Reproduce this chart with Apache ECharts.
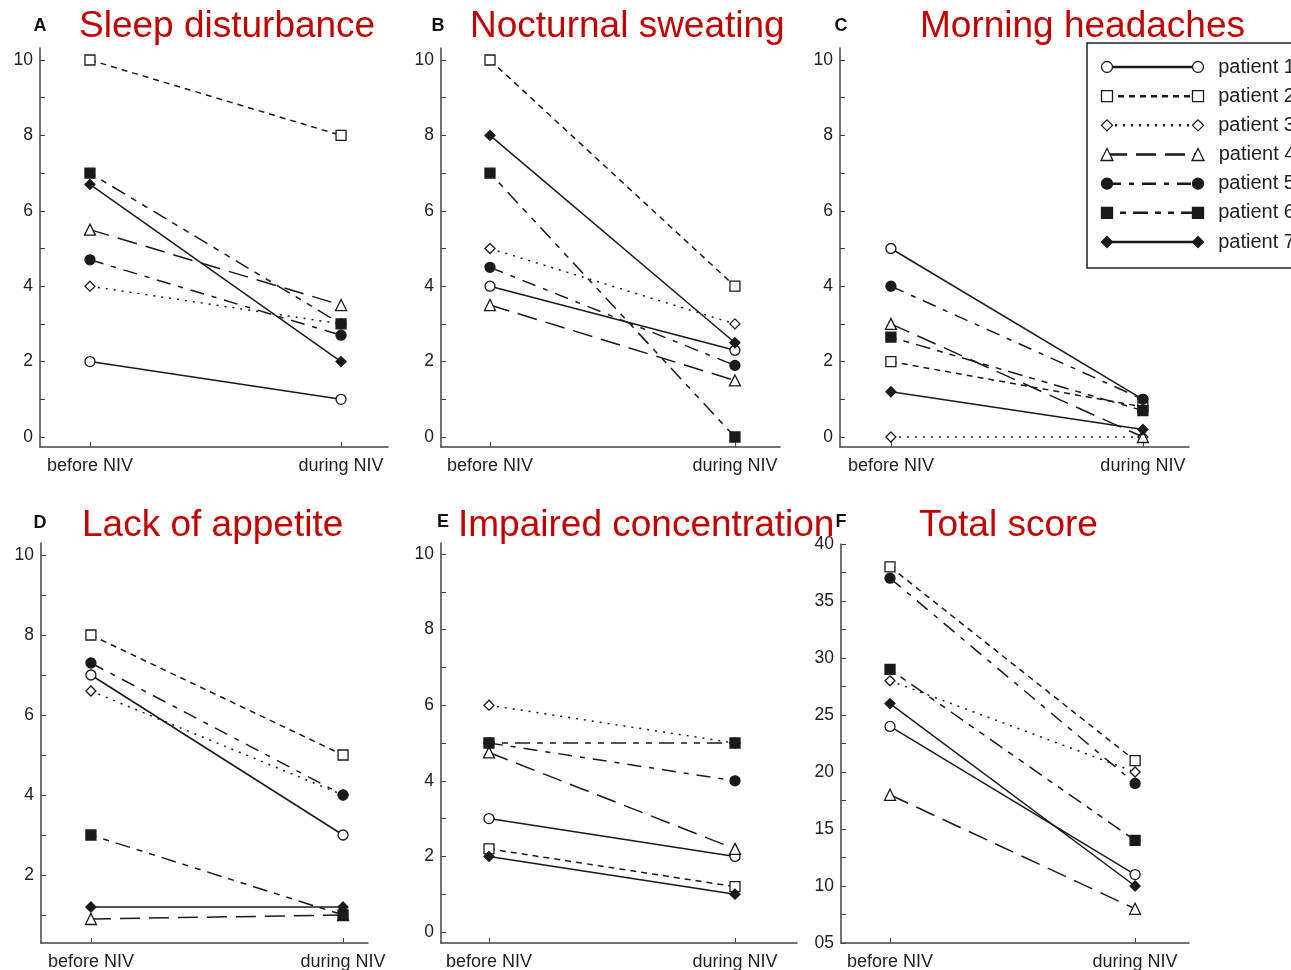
<!DOCTYPE html>
<html>
<head>
<meta charset="utf-8">
<script src="https://cdn.jsdelivr.net/npm/echarts@6/dist/echarts.min.js"></script>
<style>
html,body{margin:0;padding:0;background:#fff;}
#chart{width:1291px;height:970px;}
</style>
</head>
<body>
<div id="chart"></div>
<script>
// ---------- DATA ----------
const categories = ['before NIV', 'during NIV'];
const patients = ['patient 1', 'patient 2', 'patient 3', 'patient 4', 'patient 5', 'patient 6', 'patient 7'];
const panelTitles = ['Sleep disturbance', 'Nocturnal sweating', 'Morning headaches', 'Lack of appetite', 'Impaired concentration', 'Total score'];
const panelLetters = ['A', 'B', 'C', 'D', 'E', 'F'];
// [before, during] per patient 1..7
const sleepDisturbance      = [[2, 1], [10, 8], [4, 3], [5.5, 3.5], [4.7, 2.7], [7, 3], [6.7, 2]];
const nocturnalSweating     = [[4, 2.3], [10, 4], [5, 3], [3.5, 1.5], [4.5, 1.9], [7, 0], [8, 2.5]];
const morningHeadaches      = [[5, 1], [2, 0.8], [0, 0], [3, 0], [4, 1], [2.65, 0.7], [1.2, 0.2]];
const lackOfAppetite        = [[7, 3], [8, 5], [6.6, 4], [0.9, 1], [7.3, 4], [3, 1], [1.2, 1.2]];
const impairedConcentration = [[3, 2], [2.2, 1.2], [6, 5], [4.75, 2.2], [5, 4], [5, 5], [2, 1]];
const totalScore            = [[24, 11], [38, 21], [28, 20], [18, 8], [37, 19], [29, 14], [26, 10]];
const scoreTicks10 = [0, 1, 2, 3, 4, 5, 6, 7, 8, 9, 10];
const scoreLabels10 = [0, 2, 4, 6, 8, 10];
const appetiteTicks = [1, 2, 3, 4, 5, 6, 7, 8, 9, 10];
const appetiteLabels = [2, 4, 6, 8, 10];
const totalTicks = [5, 7.5, 10, 12.5, 15, 17.5, 20, 22.5, 25, 27.5, 30, 32.5, 35, 37.5, 40];
const totalLabels = [5, 10, 15, 20, 25, 30, 35, 40];

const panelData = [sleepDisturbance, nocturnalSweating, morningHeadaches, lackOfAppetite, impairedConcentration, totalScore];
const panelTicks = [scoreTicks10, scoreTicks10, scoreTicks10, appetiteTicks, scoreTicks10, totalTicks];
const panelLabels = [scoreLabels10, scoreLabels10, scoreLabels10, appetiteLabels, scoreLabels10, totalLabels];

// ---------- LAYOUT / STYLE ----------
const layout = [
  {left: 40,  top: 48,  right: 388,  bottom: 447, xmin: -0.199, xmax: 1.187, ymin: -0.265, ymax: 10.318, tx: 79,  ty: 8,   lx: 40,  ly: 26},
  {left: 441, top: 48,  right: 780,  bottom: 447, xmin: -0.2,   xmax: 1.184, ymin: -0.265, ymax: 10.318, tx: 470, ty: 8,   lx: 438, ly: 26},
  {left: 840, top: 48,  right: 1189, bottom: 447, xmin: -0.202, xmax: 1.183, ymin: -0.265, ymax: 10.318, tx: 920, ty: 8,   lx: 841, ly: 26},
  {left: 41,  top: 543, right: 368,  bottom: 943, xmin: -0.198, xmax: 1.099, ymin: 0.3,    ymax: 10.3,   tx: 82,  ty: 507, lx: 40,  ly: 523},
  {left: 441, top: 543, right: 797,  bottom: 943, xmin: -0.195, xmax: 1.252, ymin: -0.291, ymax: 10.291, tx: 458, ty: 507, lx: 443, ly: 522},
  {left: 841, top: 544, right: 1189, bottom: 943, xmin: -0.2,   xmax: 1.22,  ymin: 5,      ymax: 40,     tx: 919, ty: 507, lx: 841, ly: 522}
];
const INK = '#1a1a1a';
const styles = [
  {symbol: 'circle',   open: true,  dash: 'solid',              size: 10},
  {symbol: 'rect',     open: true,  dash: [6, 5],               size: 10},
  {symbol: 'diamond',  open: true,  dash: [2, 6],               size: 10},
  {symbol: 'triangle', open: true,  dash: [20, 9],              size: 11},
  {symbol: 'circle',   open: false, dash: [14, 8, 5, 8],        size: 10},
  {symbol: 'rect',     open: false, dash: [6, 7, 6, 7, 15, 7],  size: 10},
  {symbol: 'diamond',  open: false, dash: 'solid',              size: 10}
];
const FONT = 'Liberation Sans, Arial, sans-serif';

const grid = [], xAxis = [], yAxis = [], series = [], title = [];

layout.forEach((L, p) => {
  grid.push({left: L.left, top: L.top, width: L.right - L.left, height: L.bottom - L.top,
             containLabel: false, outerBoundsMode: 'none'});
  xAxis.push({
    type: 'value', gridIndex: p, min: L.xmin, max: L.xmax,
    splitLine: {show: false},
    axisLine: {onZero: false, lineStyle: {color: '#444', width: 1.5}},
    axisTick: {inside: true, length: 5, customValues: [0, 1], lineStyle: {color: '#444'}},
    axisLabel: {customValues: [0, 1], formatter: v => categories[Math.round(v)], color: '#222',
                fontFamily: FONT, fontSize: 18, margin: 10}
  });
  yAxis.push({
    type: 'value', gridIndex: p, min: L.ymin, max: L.ymax,
    splitLine: {show: false},
    axisLine: {show: true, onZero: false, lineStyle: {color: '#444', width: 1.5}},
    axisTick: {show: true, inside: true, length: 5, customValues: panelTicks[p], lineStyle: {color: '#444'}},
    axisLabel: {customValues: panelLabels[p], formatter: v => (p === 5 && v < 10 ? '0' + v : String(v)),
                color: '#222', fontFamily: FONT, fontSize: 17.5, margin: 7}
  });
  panelData[p].forEach((vals, i) => {
    const s = styles[i];
    series.push({
      type: 'line', name: patients[i], xAxisIndex: p, yAxisIndex: p,
      data: [[0, vals[0]], [1, vals[1]]],
      symbol: s.symbol, symbolSize: s.size, showSymbol: true,
      lineStyle: {color: INK, width: 1.5, type: s.dash},
      itemStyle: {color: s.open ? '#fff' : INK, borderColor: INK, borderWidth: 1.3},
      emphasis: {disabled: true}, animation: false, z: 2 + i
    });
  });
  title.push({text: panelTitles[p], left: L.tx, top: L.ty, padding: 0,
              textStyle: {color: '#c00000', fontFamily: FONT, fontSize: 37, fontWeight: 'normal'}});
  title.push({text: panelLetters[p], left: L.lx, top: L.ly, padding: 0, textAlign: 'center', textVerticalAlign: 'middle',
              textStyle: {color: '#111', fontFamily: FONT, fontSize: 18, fontWeight: 'bold'}});
});

// legend drawn as its own small grid (lines with markers at both ends)
const LG = grid.length;
grid.push({left: 1087, top: 43, width: 360, height: 225, show: true, borderColor: '#222', borderWidth: 1.5,
           backgroundColor: 'rgba(0,0,0,0)', containLabel: false, outerBoundsMode: 'none'});
xAxis.push({type: 'value', gridIndex: LG, min: -0.2198, max: -0.2198 + 360 / 91, show: false});
yAxis.push({type: 'value', gridIndex: LG, min: 0.177, max: 0.177 + 225 / 29.17, inverse: true, show: false});
patients.forEach((name, i) => {
  const s = styles[i];
  series.push({
    type: 'line', name: name, xAxisIndex: LG, yAxisIndex: LG,
    data: [[0, i + 1], {value: [1, i + 1], label: {show: true, position: 'right', distance: 14, formatter: name,
            color: '#222', fontFamily: FONT, fontSize: 20}}],
    symbol: s.symbol, symbolSize: s.size + 1, showSymbol: true,
    lineStyle: {color: INK, width: 2.5, type: s.dash},
    itemStyle: {color: s.open ? '#fff' : INK, borderColor: INK, borderWidth: 1.3},
    emphasis: {disabled: true}, animation: false
  });
});

const chart = echarts.init(document.getElementById('chart'), null, {renderer: 'canvas'});
chart.setOption({backgroundColor: '#fff', animation: false, title, grid, xAxis, yAxis, series, tooltip: {show: false}});
</script>
</body>
</html>
